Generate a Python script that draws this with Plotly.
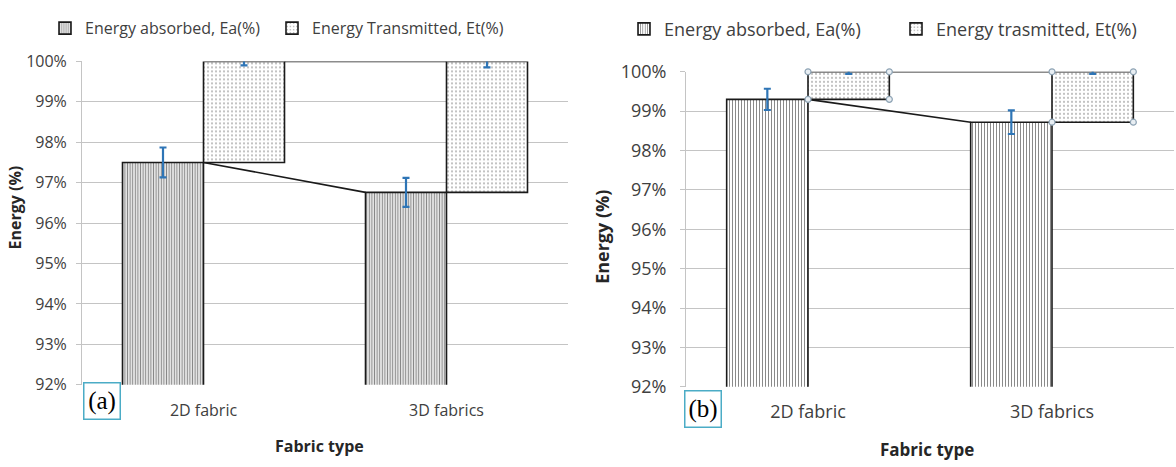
import plotly.graph_objects as go

# Fabric categories and measured energy split (percent)
categories = ["2D fabric", "3D fabrics"]

# Panel (a)
ea_a = [97.50, 96.76]        # energy absorbed, Ea (%)
et_a = [2.50, 3.24]          # energy transmitted, Et (%)
ea_err_a = [0.37, 0.36]
et_err_a = [0.10, 0.15]

# Panel (b)
ea_b = [99.30, 98.72]
et_b = [0.70, 1.28]
ea_err_b = [0.27, 0.30]
et_err_b = [0.05, 0.05]

y_ticks = [92, 93, 94, 95, 96, 97, 98, 99, 100]

W, H = 1176, 467
BAR_W = 1 / 3
FONT = "Open Sans"
TXT = "#404040"
GRID = "#c4c4c4"
ERR = "#2e75b6"


def px_x(p):
    return p / W


def px_y(p):
    return 1 - p / H


fig = go.Figure()


def add_panel(xa, ya, ea, et, ea_err, et_err, names, legends, stripe, handles):
    pos = list(range(len(categories)))
    # absorbed share, left half of each category
    fig.add_trace(go.Bar(
        x=[p - BAR_W / 2 for p in pos], y=ea, width=BAR_W, name=names[0],
        xaxis=xa, yaxis=ya, legend=legends[0],
        marker=dict(color="white", line=dict(color="#1a1a1a", width=1.6),
                    pattern=dict(shape="|", size=stripe[0], solidity=stripe[1],
                                 fgcolor="#111111", bgcolor="white", fillmode="overlay")),
        error_y=dict(type="data", array=ea_err, color=ERR, thickness=2.2, width=3.5),
    ))
    # transmitted share, floating on top of the absorbed share
    fig.add_trace(go.Bar(
        x=[p + BAR_W / 2 for p in pos], y=et, base=ea, width=BAR_W, name=names[1],
        xaxis=xa, yaxis=ya, legend=legends[1],
        marker=dict(color="white", line=dict(color="#1a1a1a", width=1.6),
                    pattern=dict(shape=".", size=4, solidity=0.22,
                                 fgcolor="#6a6a6a", bgcolor="white", fillmode="overlay")),
        error_y=dict(type="data", array=et_err, color=ERR, thickness=2.2, width=3.5),
    ))
    # series lines joining the stacks
    fig.add_trace(go.Scatter(
        x=[pos[0], pos[1] - BAR_W], y=[ea[0], ea[1]], mode="lines",
        line=dict(color="#1a1a1a", width=1.6),
        xaxis=xa, yaxis=ya, showlegend=False, hoverinfo="skip", cliponaxis=False,
    ))
    tops = [a + t for a, t in zip(ea, et)]
    fig.add_trace(go.Scatter(
        x=[pos[0] + BAR_W, pos[1]], y=[tops[0], tops[1]], mode="lines",
        line=dict(color="#1a1a1a", width=1.6),
        xaxis=xa, yaxis=ya, showlegend=False, hoverinfo="skip", cliponaxis=False,
    ))
    if handles:
        # selection handles on the corners of the transmitted boxes
        hx, hy = [], []
        for p, a, t in zip(pos, ea, et):
            for xx in (p, p + BAR_W):
                for yy in (a, a + t):
                    hx.append(xx)
                    hy.append(yy)
        fig.add_trace(go.Scatter(
            x=hx, y=hy, mode="markers", xaxis=xa, yaxis=ya, showlegend=False,
            hoverinfo="skip", cliponaxis=False,
            marker=dict(size=6, color="#e8eef3", line=dict(color="#8ea3b4", width=1.2)),
        ))


add_panel("x", "y", ea_a, et_a, ea_err_a, et_err_a,
          ["Energy absorbed, Ea(%)", "Energy Transmitted, Et(%)"],
          ["legend", "legend2"], (2.6, 0.5), False)
add_panel("x2", "y2", ea_b, et_b, ea_err_b, et_err_b,
          ["Energy absorbed, Ea(%)", "Energy trasmitted, Et(%)"],
          ["legend3", "legend4"], (3.0, 0.33), True)


def xaxis_cfg(dom, size, standoff):
    return dict(domain=dom, range=[-0.5, 1.5], tickvals=[0, 1], ticktext=categories,
                showgrid=False, zeroline=False, showline=False, ticks="",
                tickfont=dict(family=FONT, size=size, color=TXT),
                ticklabelstandoff=standoff, fixedrange=True)


def yaxis_cfg(dom, anchor, size, standoff):
    return dict(domain=dom, anchor=anchor, range=[92, 100], tickvals=y_ticks,
                ticktext=[f"{v}%" for v in y_ticks], showgrid=True, gridcolor=GRID,
                gridwidth=1, zeroline=False, showline=True, linecolor=GRID, linewidth=1,
                ticks="outside", ticklen=5, tickcolor=GRID,
                tickfont=dict(family=FONT, size=size, color=TXT),
                ticklabelstandoff=standoff, fixedrange=True)


dom_ax = [px_x(82), px_x(568)]
dom_bx = [px_x(686), px_x(1174)]
dom_ay = [px_y(392), px_y(51)]
dom_by = [px_y(394), px_y(62)]


def legend_cfg(x, y, size):
    return dict(x=x, y=y, xanchor="left", yanchor="middle", orientation="h",
                bgcolor="rgba(0,0,0,0)", borderwidth=0, itemwidth=30,
                font=dict(family=FONT, size=size, color=TXT))


fig.update_layout(
    width=W, height=H, margin=dict(l=0, r=0, t=0, b=0),
    paper_bgcolor="white", plot_bgcolor="white", barmode="overlay",
    xaxis=xaxis_cfg(dom_ax, 16, 14),
    yaxis=yaxis_cfg(dom_ay, "x", 16, 6),
    xaxis2=xaxis_cfg(dom_bx, 18, 14),
    yaxis2=yaxis_cfg(dom_by, "x2", 18, 10),
    legend=legend_cfg(px_x(87 - 42), px_y(16), 16),
    legend2=legend_cfg(px_x(314 - 42), px_y(16), 16),
    legend3=legend_cfg(px_x(666 - 42), px_y(17), 18),
    legend4=legend_cfg(px_x(938 - 42), px_y(17), 18),
    showlegend=True,
)

annotations = [
    dict(text="Energy (%)", x=px_x(15), y=px_y(205), textangle=-90,
         font=dict(family=FONT, size=16, color="#262626", weight="bold")),
    dict(text="Energy (%)", x=px_x(602), y=px_y(236), textangle=-90,
         font=dict(family=FONT, size=18, color="#262626", weight="bold")),
    dict(text="Fabric type", x=px_x(319), y=px_y(456),
         font=dict(family=FONT, size=16, color="#262626", weight="bold")),
    dict(text="Fabric type", x=px_x(927), y=px_y(460),
         font=dict(family=FONT, size=17, color="#262626", weight="bold")),
]
for a in annotations:
    a.update(xref="paper", yref="paper", showarrow=False, xanchor="center", yanchor="middle")

# panel letters in framed boxes
for lbl, x0, y0 in (("(a)", 83, 389), ("(b)", 684, 397)):
    annotations.append(dict(
        text=lbl, x=px_x(x0), y=px_y(y0), xref="paper", yref="paper", showarrow=False,
        xanchor="left", yanchor="top", width=31, height=31, borderpad=2,
        bordercolor="#4bacc6", borderwidth=1.5,
        font=dict(family="Liberation Serif", size=25, color="black")))
fig.update_layout(annotations=annotations)

fig.write_html("out.html")
